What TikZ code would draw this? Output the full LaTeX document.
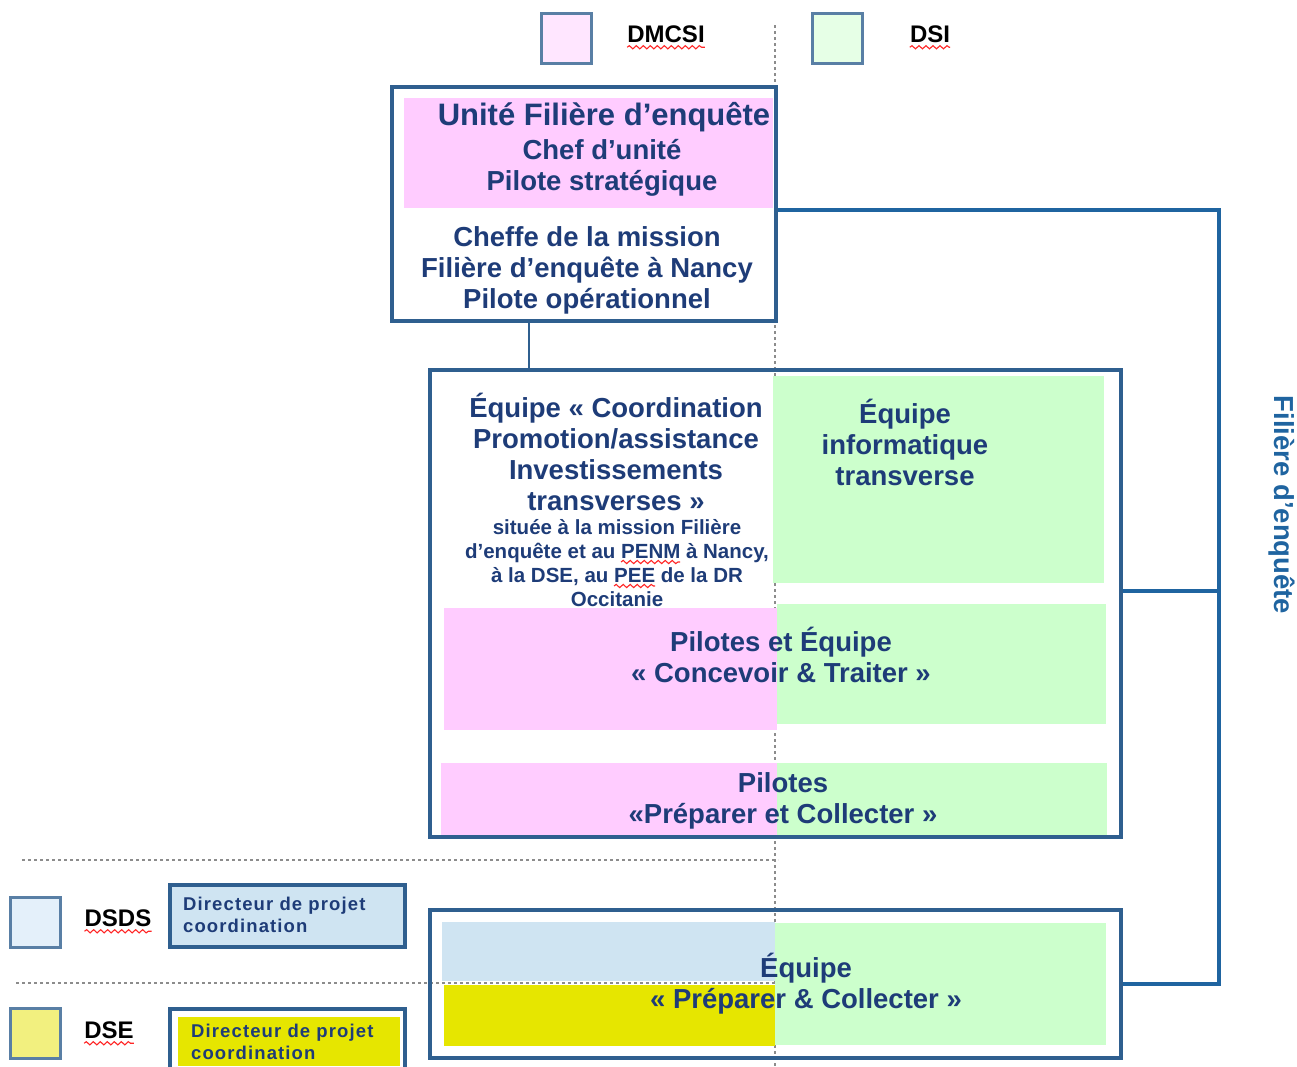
\documentclass[tikz,border=0pt]{standalone}
\usepackage{fontspec}
\setmainfont{Liberation Sans}
\newfontfamily\dirfont[LetterSpace=6]{Liberation Sans}
\usetikzlibrary{positioning,decorations.pathmorphing}

\definecolor{txtblue}{HTML}{1E3C78}
\definecolor{boxblue}{HTML}{2F5F8F}
\definecolor{linkblue}{HTML}{1F64A0}
\definecolor{pinkfill}{HTML}{FFCCFF}
\definecolor{greenfill}{HTML}{CCFFCC}
\definecolor{bluefill}{HTML}{CFE4F2}
\definecolor{yellowfill}{HTML}{E6E600}
\definecolor{pinklight}{HTML}{FFE6FF}
\definecolor{greenlight}{HTML}{E6FFE6}
\definecolor{bluelight}{HTML}{E4F0FA}
\definecolor{yellowlight}{HTML}{F2F07F}
\definecolor{sepgray}{HTML}{8C8C8C}

\begin{document}
\begin{tikzpicture}[x=1pt, y=-1pt,
    box/.style={draw=boxblue, line width=4pt, inner sep=0pt},
    legsq/.style={draw=boxblue!80, line width=3pt, minimum size=50pt, inner sep=0pt},
    legname/.style={font=\bfseries\fontsize{24}{26}\selectfont, inner sep=0pt},
    titletxt/.style={text=txtblue, font=\bfseries\fontsize{31}{34}\selectfont, inner sep=0pt, align=center},
    txt/.style={text=txtblue, font=\bfseries\fontsize{27.5}{31}\selectfont, inner sep=0pt, align=center},
    smalltxt/.style={text=txtblue, font=\bfseries\fontsize{20.5}{24}\selectfont, inner sep=0pt, align=center},
    dirtxt/.style={text=txtblue, font=\dirfont\bfseries\fontsize{18.5}{22}\selectfont, inner sep=0pt, align=left},
    sepline/.style={draw=sepgray, line width=1.5pt, dash pattern=on 3pt off 3pt},
    link/.style={draw=linkblue, line width=3.5pt},
    spelline/.style={draw=red!85, line width=1.1pt, decorate,
                     decoration={snake, segment length=7pt, amplitude=1.6pt}},
]
    \clip (0,0) rectangle (1297,1066);

    % separators
    \draw[sepline] (775,25) -- (775,1066);
    \draw[sepline] (22,860) -- (778,860);
    \draw[sepline] (16,983) -- (775,983);

    % legend
    \foreach \nm/\col/\x/\y in {dmcsi/pinklight/566/38, dsi/greenlight/837/38,
                                dsds/bluelight/35/922, dse/yellowlight/35/1033}{
        \node[legsq, fill=\col] (\nm sq) at (\x,\y) {};
    }
    \node[legname] (dmcsi) at (666,34) {DMCSI};
    \node[legname] (dsi)   at (930,34) {DSI};
    \node[legname] (dsds)  at (118,918) {DSDS};
    \node[legname] (dse)   at (109,1030) {DSE};
    \foreach \nm in {dmcsi,dsi,dsds,dse}
        \draw[spelline] ([yshift=-5pt]\nm.base west) -- ([yshift=-5pt]\nm.base east);

    \node[box, fill=bluefill, minimum width=235pt, minimum height=62pt] (dirdsds) at (287.5,916) {};
    \node[dirtxt, anchor=west] at (183,915) {Directeur de projet\\coordination};
    \node[box, minimum width=235pt, minimum height=80pt] (dirdse) at (287.5,1049) {};
    \fill[yellowfill] (178,1017) rectangle (400,1066);
    \node[dirtxt, anchor=west] at (191,1042) {Directeur de projet\\coordination};

    % colour bands
    \fill[pinkfill]   (404,98)  rectangle (773,208);
    \fill[greenfill]  (773,376) rectangle (1104,583);
    \fill[pinkfill]   (444,608) rectangle (777,730);
    \fill[greenfill]  (777,604) rectangle (1106,724);
    \fill[pinkfill]   (441,763) rectangle (777,835);
    \fill[greenfill]  (777,763) rectangle (1107,835);
    \fill[bluefill]   (442,922) rectangle (775,981);
    \fill[yellowfill] (444,985) rectangle (775,1046);
    \fill[greenfill]  (775,923) rectangle (1106,1045);

    % boxes
    \node[box, minimum width=384pt, minimum height=234pt] (unite) at (584,204) {};
    \node[box, minimum width=691pt, minimum height=467pt] (coord) at (775.5,603.5) {};
    \node[box, minimum width=691pt, minimum height=148pt] (prep)  at (775.5,984) {};

    % texts
    \node[titletxt] at (604,117) {Unité Filière d’enquête};
    \node[txt] at (602,168) {Chef d’unité\\Pilote stratégique};
    \node[txt] at (587,270) {Cheffe de la mission\\Filière d’enquête à Nancy\\Pilote opérationnel};
    \node[txt] at (616,452) {Équipe « Coordination\\Promotion/assistance\\Investissements\\transverses »};
    \node[smalltxt] at (617,563) {située à la mission Filière\\d’enquête et au PENM à Nancy,\\à la DSE, au PEE de la DR\\Occitanie};
    \node[txt] at (905,442) {Équipe\\informatique\\transverse};
    \node[txt] at (781,655) {Pilotes et Équipe\\« Concevoir \& Traiter »};
    \node[txt] at (783,801) {Pilotes\\«Préparer et Collecter »};
    \node[txt] at (806,984) {Équipe\\« Préparer \& Collecter »};
    \node[txt, text=linkblue, rotate=-90] at (1282,505) {Filière d'enquête};
    \draw[spelline] (621,562) -- (680,562);
    \draw[spelline] (614,586) -- (655,586);

    % connectors
    \coordinate (tapA) at (0,210);
    \coordinate (tapB) at (529,0);
    \coordinate (tapC) at (0,591);
    \coordinate (bus)  at (1219,210);
    \draw[boxblue, line width=2.5pt] (unite.south -| tapB) -- (coord.north -| tapB);
    \draw[link] (unite.east |- tapA) -- (bus) |- (prep.east);
    \draw[link] (coord.east |- tapC) -- (bus |- tapC);
\end{tikzpicture}
\end{document}
